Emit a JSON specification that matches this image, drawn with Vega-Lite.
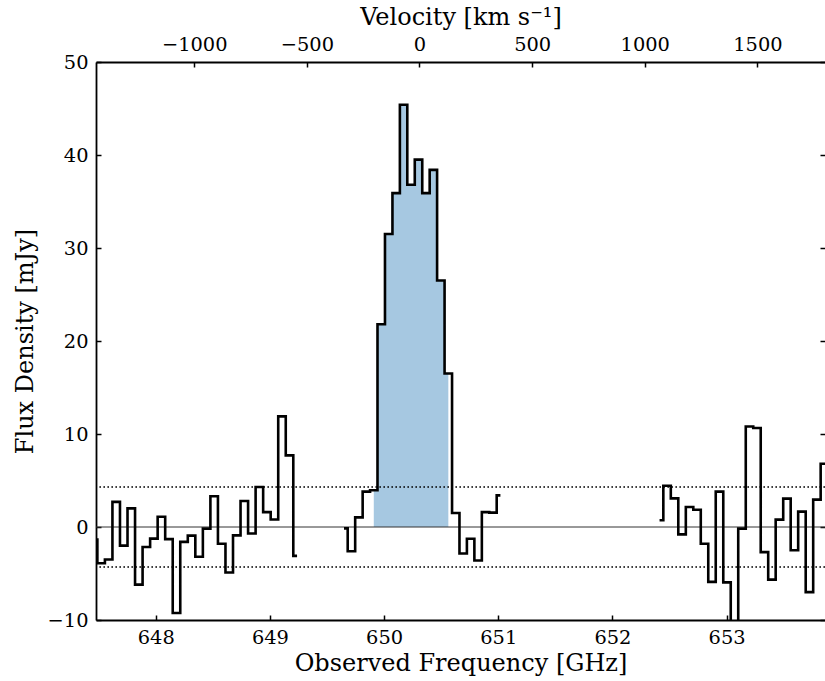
{
  "$schema": "https://vega.github.io/schema/vega-lite/v6.json",
  "width": 729,
  "height": 558,
  "autosize": {"type": "none"},
  "padding": {"left": 96, "top": 62, "right": 0, "bottom": 61},
  "background": "white",
  "config": {
    "view": {"stroke": null},
    "font": "DejaVu Serif",
    "axis": {
      "labelFont": "DejaVu Serif",
      "titleFont": "DejaVu Serif",
      "labelFontSize": 19.4,
      "titleFontSize": 24,
      "titleFontWeight": "normal",
      "labelColor": "black",
      "titleColor": "black",
      "domainColor": "black",
      "tickColor": "black",
      "domainWidth": 1.8,
      "tickWidth": 1.5,
      "tickSize": -5,
      "labelPadding": 13,
      "titlePadding": 5,
      "grid": false
    }
  },
  "datasets": {
    "spec": [
      {"seg": "a", "f": 647.456, "flux": -1.36},
      {"seg": "a", "f": 647.522, "flux": -3.9},
      {"seg": "a", "f": 647.588, "flux": -3.5},
      {"seg": "a", "f": 647.654, "flux": 2.7},
      {"seg": "a", "f": 647.720, "flux": -2.0},
      {"seg": "a", "f": 647.786, "flux": 2.0},
      {"seg": "a", "f": 647.852, "flux": -6.2},
      {"seg": "a", "f": 647.918, "flux": -2.15},
      {"seg": "a", "f": 647.984, "flux": -1.25},
      {"seg": "a", "f": 648.050, "flux": 1.1},
      {"seg": "a", "f": 648.116, "flux": -1.3},
      {"seg": "a", "f": 648.182, "flux": -9.25},
      {"seg": "a", "f": 648.248, "flux": -1.6},
      {"seg": "a", "f": 648.314, "flux": -0.93},
      {"seg": "a", "f": 648.380, "flux": -3.2},
      {"seg": "a", "f": 648.446, "flux": -0.18},
      {"seg": "a", "f": 648.512, "flux": 3.3},
      {"seg": "a", "f": 648.578, "flux": -1.8},
      {"seg": "a", "f": 648.644, "flux": -4.9},
      {"seg": "a", "f": 648.710, "flux": -0.9},
      {"seg": "a", "f": 648.776, "flux": 2.8},
      {"seg": "a", "f": 648.842, "flux": -0.7},
      {"seg": "a", "f": 648.908, "flux": 4.3},
      {"seg": "a", "f": 648.974, "flux": 1.6},
      {"seg": "a", "f": 649.040, "flux": 0.8},
      {"seg": "a", "f": 649.106, "flux": 11.9},
      {"seg": "a", "f": 649.172, "flux": 7.7},
      {"seg": "a", "f": 649.238, "flux": -3.1},
      {"seg": "b", "f": 649.649, "flux": -0.15},
      {"seg": "b", "f": 649.714, "flux": -2.6},
      {"seg": "b", "f": 649.780, "flux": 1.04},
      {"seg": "b", "f": 649.845, "flux": 3.8},
      {"seg": "b", "f": 649.910, "flux": 3.95},
      {"seg": "b", "f": 649.975, "flux": 21.8},
      {"seg": "b", "f": 650.041, "flux": 31.5},
      {"seg": "b", "f": 650.106, "flux": 35.9},
      {"seg": "b", "f": 650.171, "flux": 45.4},
      {"seg": "b", "f": 650.236, "flux": 36.8},
      {"seg": "b", "f": 650.302, "flux": 39.5},
      {"seg": "b", "f": 650.367, "flux": 35.9},
      {"seg": "b", "f": 650.432, "flux": 38.4},
      {"seg": "b", "f": 650.497, "flux": 26.5},
      {"seg": "b", "f": 650.563, "flux": 16.5},
      {"seg": "b", "f": 650.628, "flux": 1.5},
      {"seg": "b", "f": 650.693, "flux": -2.85},
      {"seg": "b", "f": 650.758, "flux": -1.26},
      {"seg": "b", "f": 650.824, "flux": -3.6},
      {"seg": "b", "f": 650.889, "flux": 1.6},
      {"seg": "b", "f": 650.954, "flux": 1.55},
      {"seg": "b", "f": 651.019, "flux": 3.4},
      {"seg": "c", "f": 652.413, "flux": 0.72},
      {"seg": "c", "f": 652.479, "flux": 4.44},
      {"seg": "c", "f": 652.544, "flux": 3.08},
      {"seg": "c", "f": 652.610, "flux": -0.79},
      {"seg": "c", "f": 652.676, "flux": 2.15},
      {"seg": "c", "f": 652.741, "flux": 1.86},
      {"seg": "c", "f": 652.807, "flux": -1.8},
      {"seg": "c", "f": 652.872, "flux": -5.9},
      {"seg": "c", "f": 652.938, "flux": 3.8},
      {"seg": "c", "f": 653.004, "flux": -5.95},
      {"seg": "c", "f": 653.069, "flux": -12.5},
      {"seg": "c", "f": 653.135, "flux": -0.18},
      {"seg": "c", "f": 653.201, "flux": 10.8},
      {"seg": "c", "f": 653.266, "flux": 10.65},
      {"seg": "c", "f": 653.332, "flux": -2.7},
      {"seg": "c", "f": 653.397, "flux": -5.66},
      {"seg": "c", "f": 653.463, "flux": 0.79},
      {"seg": "c", "f": 653.529, "flux": 3.05},
      {"seg": "c", "f": 653.594, "flux": -2.5},
      {"seg": "c", "f": 653.660, "flux": 1.65},
      {"seg": "c", "f": 653.726, "flux": -7.0},
      {"seg": "c", "f": 653.791, "flux": 2.94},
      {"seg": "c", "f": 653.857, "flux": 6.8},
      {"seg": "c", "f": 653.922, "flux": 5.0}
    ],
    "zero": [{"flux": 0}],
    "rms": [{"flux": 4.3}, {"flux": -4.3}],
    "frame": [{"vel": -1436, "flux": -10}, {"vel": 1800, "flux": 50}]
  },
  "layer": [
    {
      "layer": [
        {
          "data": {"name": "spec"},
          "transform": [{"filter": "datum.f >= 649.9 && datum.f <= 650.6"}],
          "mark": {"type": "area", "interpolate": "step", "color": "#a6c8e1", "opacity": 1, "clip": true},
          "encoding": {
            "x": {"field": "f", "type": "quantitative", "scale": {"domain": [647.477, 653.862], "nice": false, "zero": false}},
            "y": {"field": "flux", "type": "quantitative", "scale": {"domain": [-10, 50], "nice": false, "zero": false}},
            "y2": {"datum": 0}
          }
        },
        {
          "data": {"name": "zero"},
          "mark": {"type": "rule", "color": "#333333", "strokeWidth": 1},
          "encoding": {
            "y": {"field": "flux", "type": "quantitative", "scale": {"domain": [-10, 50], "nice": false, "zero": false}}
          }
        },
        {
          "data": {"name": "rms"},
          "mark": {"type": "rule", "color": "black", "strokeWidth": 1.6, "strokeDash": [1.6, 2.4]},
          "encoding": {
            "y": {"field": "flux", "type": "quantitative", "scale": {"domain": [-10, 50], "nice": false, "zero": false}}
          }
        },
        {
          "data": {"name": "spec"},
          "mark": {"type": "line", "interpolate": "step", "color": "black", "strokeWidth": 2.6, "clip": true},
          "encoding": {
            "x": {
              "field": "f", "type": "quantitative",
              "scale": {"domain": [647.477, 653.862], "nice": false, "zero": false},
              "axis": {"orient": "bottom", "title": "Observed Frequency [GHz]", "values": [648, 649, 650, 651, 652, 653], "format": "d", "titlePadding": 5}
            },
            "y": {
              "field": "flux", "type": "quantitative",
              "scale": {"domain": [-10, 50], "nice": false, "zero": false},
              "axis": {"orient": "left", "title": "Flux Density [mJy]", "values": [-10, 0, 10, 20, 30, 40, 50], "format": "d", "titlePadding": 10}
            },
            "detail": {"field": "seg"}
          }
        }
      ]
    },
    {
      "data": {"name": "frame"},
      "mark": {"type": "point", "opacity": 0},
      "encoding": {
        "x": {
          "field": "vel", "type": "quantitative",
          "scale": {"domain": [-1436, 1800], "nice": false, "zero": false},
          "axis": {"orient": "top", "title": "Velocity [km s⁻¹]", "values": [-1000, -500, 0, 500, 1000, 1500], "format": "d", "titlePadding": 5}
        },
        "y": {
          "field": "flux", "type": "quantitative",
          "scale": {"domain": [-10, 50], "nice": false, "zero": false},
          "axis": {"orient": "right", "title": null, "labels": false, "domain": false, "values": [-10, 0, 10, 20, 30, 40, 50]}
        }
      }
    }
  ],
  "resolve": {"scale": {"x": "independent", "y": "independent"}, "axis": {"x": "independent", "y": "independent"}}
}
